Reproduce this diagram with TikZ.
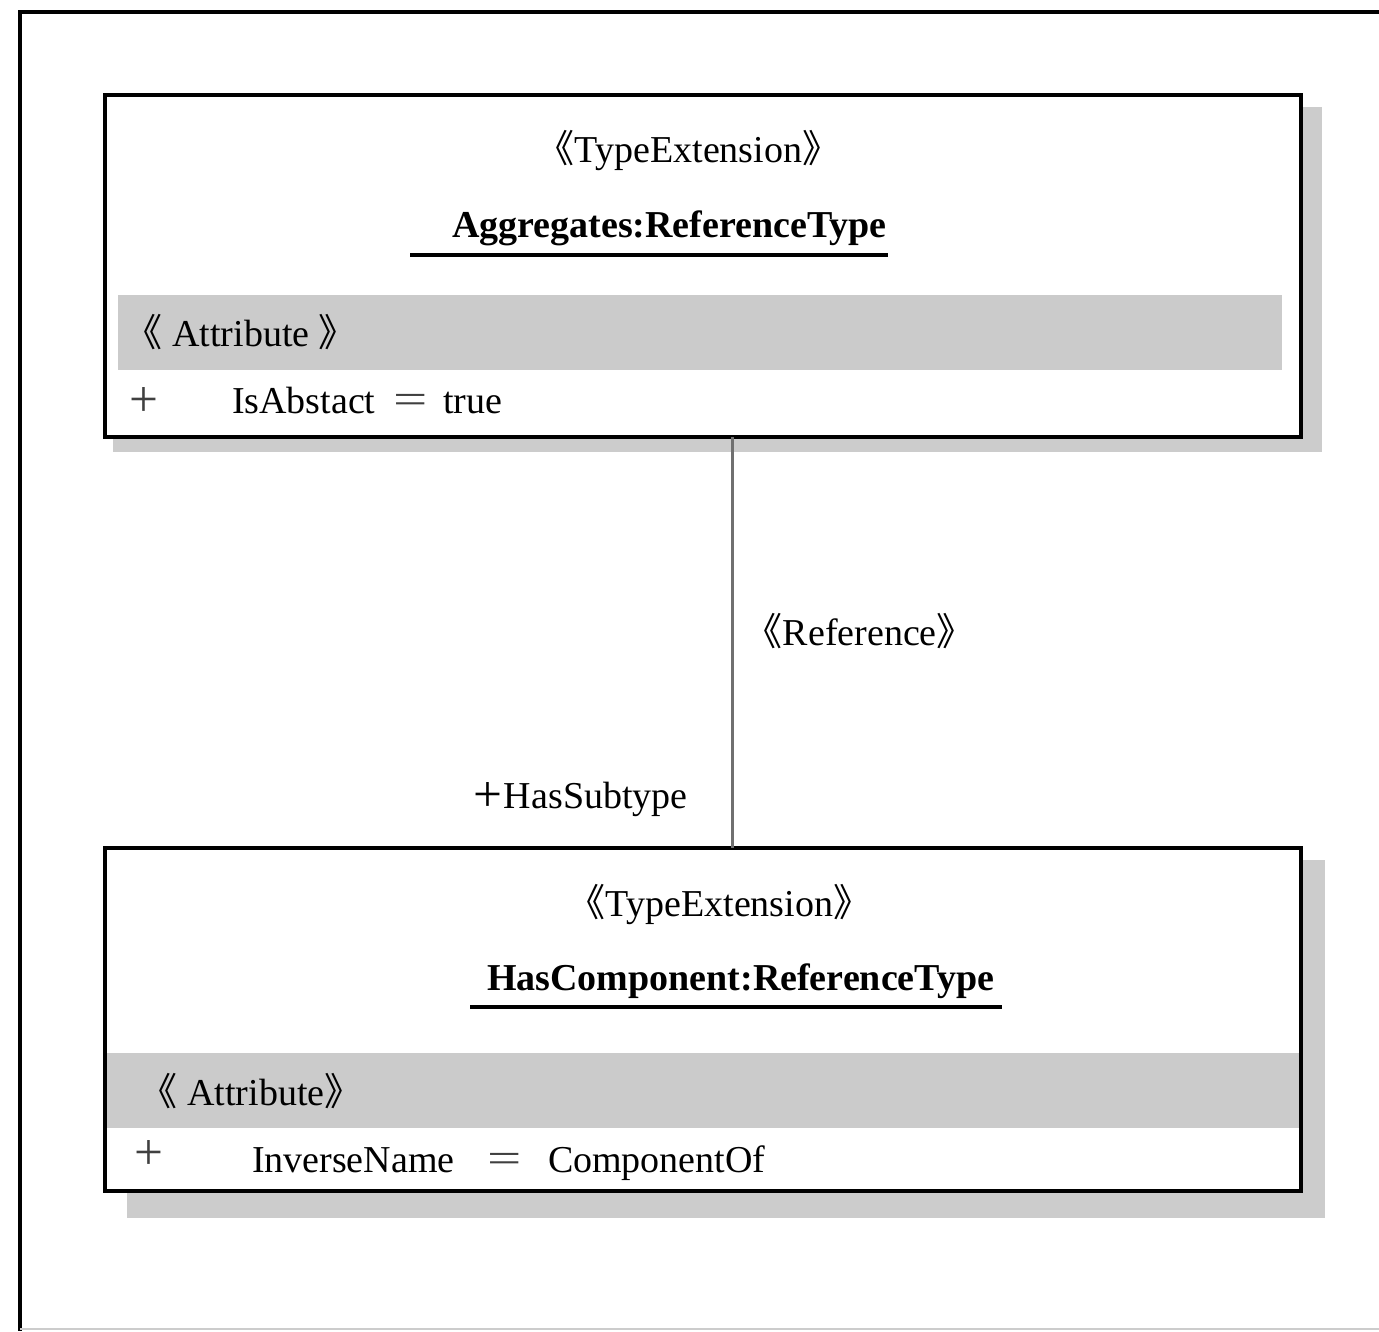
\documentclass[tikz,border=0pt]{standalone}
\usepackage{fontspec}
\setmainfont{Liberation Serif}
\newfontfamily\cjk{Noto Sans CJK SC}
% guillemet-style stereotype brackets with tight advances
\newcommand\gl{\hbox to 0.6em{\hss\cjk 《}}
\newcommand\gr{\hbox to 0.6em{\cjk 》\hss}}
% wide plus and equals signs
\newcommand\bigplus{\raisebox{-0.08em}{\scalebox{1.35}{+}}}
\newcommand\wideeq{\scalebox{1.6}[1.1]{=}}
\definecolor{shadowgray}{HTML}{CCCCCC}
\definecolor{bandgray}{HTML}{CBCBCB}
\definecolor{conngray}{HTML}{707070}
\begin{document}
\begin{tikzpicture}[x=1pt,y=-1pt,
  frameline/.style={draw=black,line width=4pt},
  umlbox/.style={draw=black,line width=4pt,fill=white,anchor=north west,
    inner sep=0pt,outer sep=0pt,minimum width=1196pt},
  shadowbox/.style={fill=shadowgray},
  band/.style={fill=bandgray},
  txt/.style={anchor=base west,inner sep=0pt,outer sep=0pt,
    font=\fontsize{38}{44}\selectfont},
  btxt/.style={txt,font=\fontsize{38}{44}\selectfont\bfseries},
  sym/.style={txt,text=black!75},
  underline/.style={draw=black,line width=4pt},
  conn/.style={draw=conngray,line width=3pt}]
\useasboundingbox (0,0) rectangle (1379,1331);

% outer frame
\draw[frameline] (1379,12) -- (20,12) -- (20,1331);
\draw[draw=black!20,line width=2pt] (20,1329) -- (1379,1329);

% drop shadows
\fill[shadowbox] (113,107) rectangle (1322,452);
\fill[shadowbox] (127,860) rectangle (1325,1218);

% class boxes
\node[umlbox,minimum height=342pt] (topbox) at (105,95) {};
\node[umlbox,minimum height=343pt] (botbox) at (105,848) {};

% attribute compartments
\fill[band] (118,295) rectangle (1282,370);
\fill[band] (107,1053) rectangle (1299,1128);

% association
\coordinate (refx) at (732,0);
\draw[conn] (topbox.south -| refx) -- (botbox.north -| refx);

% upper class
\node[txt] (tst) at (552,162) {\gl TypeExtension\gr};
\node[btxt] (tname) at (452,237) {Aggregates:ReferenceType};
\coordinate (tul1) at (410,255);
\coordinate (tul2) at (888,255);
\draw[underline] (tul1) -- (tul2);
\node[txt] (tattr) at (140,346) {\gl\ Attribute \gr};
\node[sym] (tplus) at (129,413) {\bigplus};
\node[txt] (tkey) at (232,413) {IsAbstact};
\node[sym] (teq) at (393,413) {\wideeq};
\node[txt] (tval) at (443,413) {true};

% association labels
\node[txt] (refl) at (760,645) {\gl Reference\gr};
\node[txt] (role) at (473,808) {\bigplus\kern2pt HasSubtype};

% lower class
\node[txt] (bst) at (583,916) {\gl TypeExtension\gr};
\node[btxt] (bname) at (487,990) {HasComponent:ReferenceType};
\coordinate (bul1) at (470,1007);
\coordinate (bul2) at (1002,1007);
\draw[underline] (bul1) -- (bul2);
\node[txt] (battr) at (155,1105) {\gl\ Attribute\gr};
\node[sym] (bplus) at (134,1166) {\bigplus};
\node[txt] (bkey) at (252,1172) {InverseName};
\node[sym] (beq) at (487,1172) {\wideeq};
\node[txt] (bval) at (548,1172) {ComponentOf};
\end{tikzpicture}
\end{document}
